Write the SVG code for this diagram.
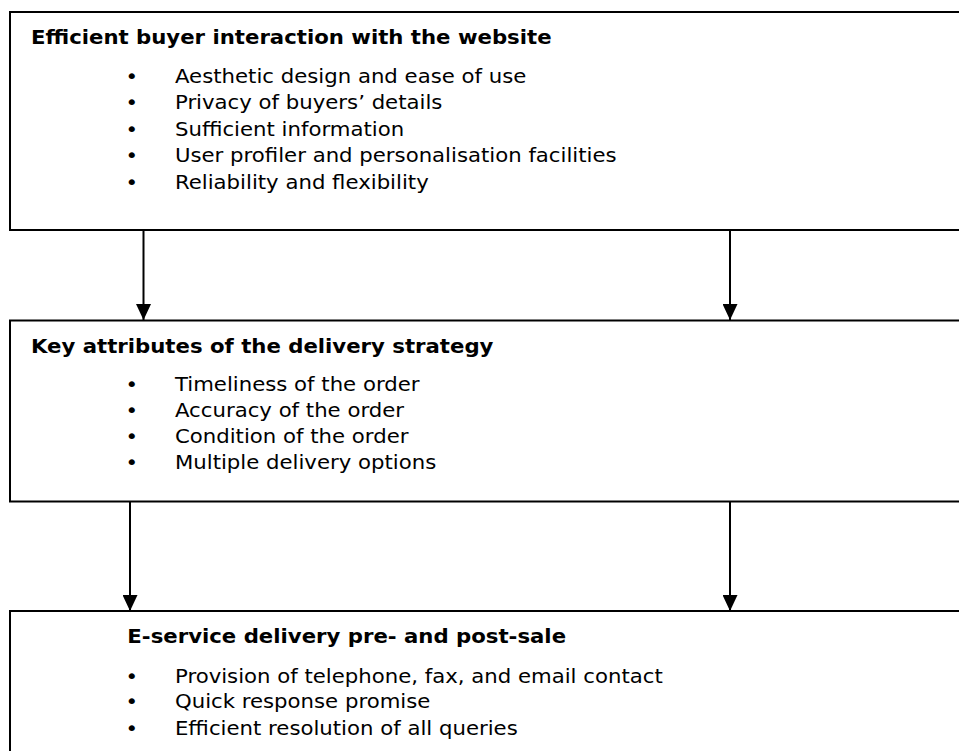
<svg xmlns="http://www.w3.org/2000/svg" width="959" height="751" viewBox="0 0 959 751">
<defs>
<style>
.box{fill:#fff;stroke:#000;stroke-width:2}
.t{font-family:"DejaVu Sans",Verdana,sans-serif;font-size:19px;fill:#000}
.h{font-weight:bold}
.conn{stroke:#000;stroke-width:2;fill:none}
</style>
<marker id="ah" markerWidth="16" markerHeight="15" refX="16" refY="7.5" orient="auto" markerUnits="userSpaceOnUse">
<path d="M0,0 L16,7.5 L0,15 Z" fill="#000"/>
</marker>
</defs>
<rect width="959" height="751" fill="#fff"/>
<g id="connectors">
<line class="conn" x1="143.5" y1="230" x2="143.5" y2="320" marker-end="url(#ah)"/>
<line class="conn" x1="730" y1="230" x2="730" y2="320" marker-end="url(#ah)"/>
<line class="conn" x1="130" y1="502" x2="130" y2="611" marker-end="url(#ah)"/>
<line class="conn" x1="730" y1="502" x2="730" y2="611" marker-end="url(#ah)"/>
</g>
<g id="node1">
<rect class="box" x="10" y="12" width="960" height="218"/>
<g class="t" transform="scale(1.118 1)">
<text class="h" x="27.7" y="44">Efficient buyer interaction with the website</text>
<text x="112.2" y="83">•</text><text x="156.5" y="83">Aesthetic design and ease of use</text>
<text x="112.2" y="109.5">•</text><text x="156.5" y="109.5">Privacy of buyers’ details</text>
<text x="112.2" y="136">•</text><text x="156.5" y="136">Sufficient information</text>
<text x="112.2" y="162.5">•</text><text x="156.5" y="162.5">User profiler and personalisation facilities</text>
<text x="112.2" y="189">•</text><text x="156.5" y="189">Reliability and flexibility</text>
</g>
</g>
<g id="node2">
<rect class="box" x="10" y="320.5" width="960" height="181"/>
<g class="t" transform="scale(1.118 1)">
<text class="h" x="27.7" y="353">Key attributes of the delivery strategy</text>
<text x="112.2" y="391.5">•</text><text x="156.5" y="391.5">Timeliness of the order</text>
<text x="112.2" y="417.5">•</text><text x="156.5" y="417.5">Accuracy of the order</text>
<text x="112.2" y="443.5">•</text><text x="156.5" y="443.5">Condition of the order</text>
<text x="112.2" y="469.5">•</text><text x="156.5" y="469.5">Multiple delivery options</text>
</g>
</g>
<g id="node3">
<rect class="box" x="10" y="611" width="960" height="160"/>
<g class="t" transform="scale(1.118 1)">
<text class="h" x="113.9" y="643">E-service delivery pre- and post-sale</text>
<text x="112.2" y="683">•</text><text x="156.5" y="683">Provision of telephone, fax, and email contact</text>
<text x="112.2" y="708.5">•</text><text x="156.5" y="708.5">Quick response promise</text>
<text x="112.2" y="735">•</text><text x="156.5" y="735">Efficient resolution of all queries</text>
</g>
</g>
</svg>
